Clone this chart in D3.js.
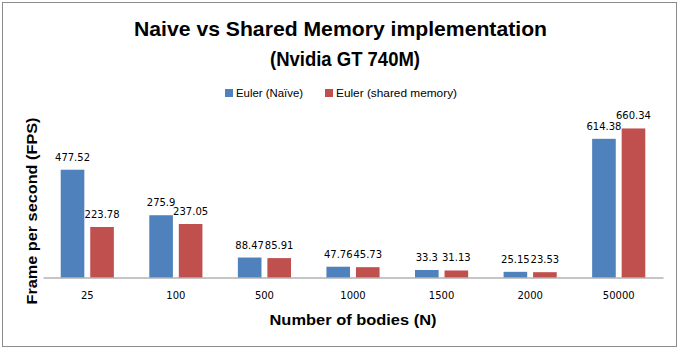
<!DOCTYPE html>
<html><head><meta charset="utf-8">
<script src="https://cdn.jsdelivr.net/npm/d3@7"></script>
<style>body{margin:0;background:#fff}svg{display:block}</style>
</head><body><svg id="c" width="679" height="358"></svg>
<script>
const categories = ["25","100","500","1000","1500","2000","50000"];
const seriesNames = ["Euler (Naïve)","Euler (shared memory)"];
const naive = [477.52,275.9,88.47,47.76,33.3,25.15,614.38];
const shared = [223.78,237.05,85.91,45.73,31.13,23.53,660.34];
const colors = ["#4F81BD","#C0504D"];

const svg = d3.select("#c");
const font = "Liberation Sans, Arial, sans-serif";
const labelFont = "DejaVu Sans, Verdana, sans-serif";
svg.append("rect").attr("x",2.5).attr("y",2.5).attr("width",674).attr("height",344)
  .attr("fill","#fff").attr("stroke","#8c8c8c").attr("stroke-width",1);

const x0 = d3.scaleBand().domain(categories).range([43,663]).paddingInner(0.4).paddingOuter(0.2);
const x1 = d3.scaleBand().domain([0,1]).range([0,x0.bandwidth()]).paddingInner(0.2);
const y = d3.scaleLinear().domain([0,700]).range([277.5,119.5]);

const data = categories.map((c,i)=>({c, v:[naive[i],shared[i]]}));
const g = svg.append("g");
const grp = g.selectAll("g.grp").data(data).join("g").attr("transform",d=>`translate(${x0(d.c)},0)`);
grp.selectAll("rect").data(d=>d.v.map((v,k)=>({v,k}))).join("rect")
  .attr("x",d=>x1(d.k)).attr("width",x1.bandwidth())
  .attr("y",d=>y(d.v)).attr("height",d=>y(0)-y(d.v)).attr("fill",d=>colors[d.k]);
grp.selectAll("text").data(d=>d.v.map((v,k)=>({v,k}))).join("text")
  .attr("x",d=>x1(d.k)+x1.bandwidth()/2).attr("y",d=>y(d.v)-9)
  .attr("text-anchor","middle").attr("font-family",labelFont).attr("font-size",10).attr("fill","#000")
  .text(d=>d.v);

// x axis
const xa = svg.append("g").attr("transform",`translate(0,${y(0)})`)
  .call(d3.axisBottom(x0.copy().paddingInner(0).paddingOuter(0)).tickSize(0).tickPadding(14));
xa.select(".domain").attr("stroke","#8c8c8c");
xa.selectAll("text").attr("font-family",labelFont).attr("font-size",10).attr("fill","#000");

// titles
const t = svg.append("text").attr("text-anchor","middle")
  .attr("font-family",font).attr("font-weight","bold").attr("font-size",21).attr("fill","#000");
t.append("tspan").attr("x",340.5).attr("y",36).attr("textLength",413).attr("lengthAdjust","spacingAndGlyphs")
  .text("Naive vs Shared Memory implementation");
t.append("tspan").attr("x",345).attr("y",66).attr("textLength",150).attr("lengthAdjust","spacingAndGlyphs")
  .text("(Nvidia GT 740M)");

svg.append("text").attr("x",353).attr("y",325).attr("text-anchor","middle")
  .attr("font-family",font).attr("font-weight","bold").attr("font-size",15)
  .attr("textLength",167).attr("lengthAdjust","spacingAndGlyphs").text("Number of bodies (N)");
svg.append("text").attr("transform","translate(37,211) rotate(-90)").attr("text-anchor","middle")
  .attr("font-family",font).attr("font-weight","bold").attr("font-size",15)
  .attr("textLength",187).attr("lengthAdjust","spacingAndGlyphs").text("Frame per second (FPS)");

// legend
const lg = svg.append("g");
const lx = [225,325], lw = [67,121];
seriesNames.forEach((n,k)=>{
  lg.append("rect").attr("x",lx[k]).attr("y",89).attr("width",8).attr("height",8).attr("fill",colors[k]);
  lg.append("text").attr("x",lx[k]+11).attr("y",97).attr("font-family",font).attr("font-size",11)
    .attr("textLength",lw[k]).attr("lengthAdjust","spacingAndGlyphs").text(n);
});
</script></body></html>
